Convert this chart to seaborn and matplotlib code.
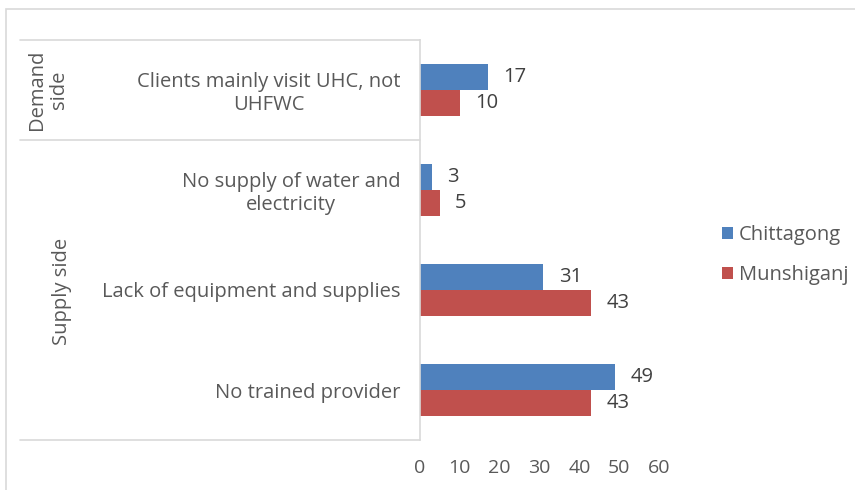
import pandas as pd
import matplotlib.pyplot as plt
import seaborn as sns
from matplotlib.lines import Line2D
from matplotlib.patches import Rectangle, Patch

categories = ["Clients mainly visit UHC, not\nUHFWC",
              "No supply of water and\nelectricity",
              "Lack of equipment and supplies",
              "No trained provider"]
chittagong = [17, 3, 31, 49]
munshiganj = [10, 5, 43, 43]
districts = ["Chittagong", "Munshiganj"]
colors = ["#4F81BD", "#C0504D"]
xticks = [0, 10, 20, 30, 40, 50, 60]

df = pd.DataFrame({
    "Reason": categories * 2,
    "District": ["Chittagong"] * 4 + ["Munshiganj"] * 4,
    "Percent": chittagong + munshiganj,
})

sns.set_style("white")
plt.rcParams["font.family"] = ["Open Sans", "DejaVu Sans"]
txt = "#595959"
line_c = "#D9D9D9"

W, H = 855, 490
fig = plt.figure(figsize=(W / 100, H / 100), dpi=100)
ax = fig.add_axes([420 / W, 1 - 440 / H, 239 / W, 400 / H])

sns.barplot(data=df, y="Reason", x="Percent", hue="District", order=categories,
            palette=colors, orient="h", width=0.52, gap=0, ax=ax,
            edgecolor="none", saturation=1)
ax.get_legend().remove()

for cont in ax.containers:
    ax.bar_label(cont, padding=11, fontsize=14.5, color="#404040")

ax.set_xlim(0, 60)
ax.set_xticks(xticks)
ax.set_xlabel("")
ax.set_ylabel("")
ax.tick_params(axis="both", length=0, colors=txt)
ax.tick_params(axis="y", pad=14, labelsize=14.5)
ax.tick_params(axis="x", pad=14, labelsize=14)
for lab in ax.get_yticklabels():
    lab.set_multialignment("center")
    lab.set_linespacing(1.15)

for s in ["top", "right", "bottom"]:
    ax.spines[s].set_visible(False)
ax.spines["left"].set_color(line_c)
ax.spines["left"].set_linewidth(1.2)

# outer chart frame
fig.patches.append(Rectangle((6 / W, -0.1), 1.2, 1 - 9 / H + 0.1, transform=fig.transFigure,
                             fill=False, edgecolor=line_c, linewidth=1.2))

# category table lines
for yy in [40, 140, 440]:
    fig.add_artist(Line2D([20 / W, 420 / W], [1 - yy / H, 1 - yy / H],
                          color=line_c, linewidth=1.2, transform=fig.transFigure))

fig.text(48 / W, 1 - 90 / H, "Demand\nside", rotation=90, ha="center", va="center",
         fontsize=14.5, color=txt, multialignment="center", linespacing=1.1)
fig.text(62 / W, 1 - 291 / H, "Supply side", rotation=90, ha="center", va="center",
         fontsize=14.5, color=txt)

handles = [Patch(facecolor=c, edgecolor="none") for c in colors]
fig.legend(handles, districts, loc="center left", bbox_to_anchor=(704 / W, 1 - 255 / H),
           frameon=False, fontsize=14.5, labelcolor=txt, handlelength=0.55, handleheight=0.55,
           handletextpad=0.3, labelspacing=1.0)

fig.savefig("out.png", dpi=100)
